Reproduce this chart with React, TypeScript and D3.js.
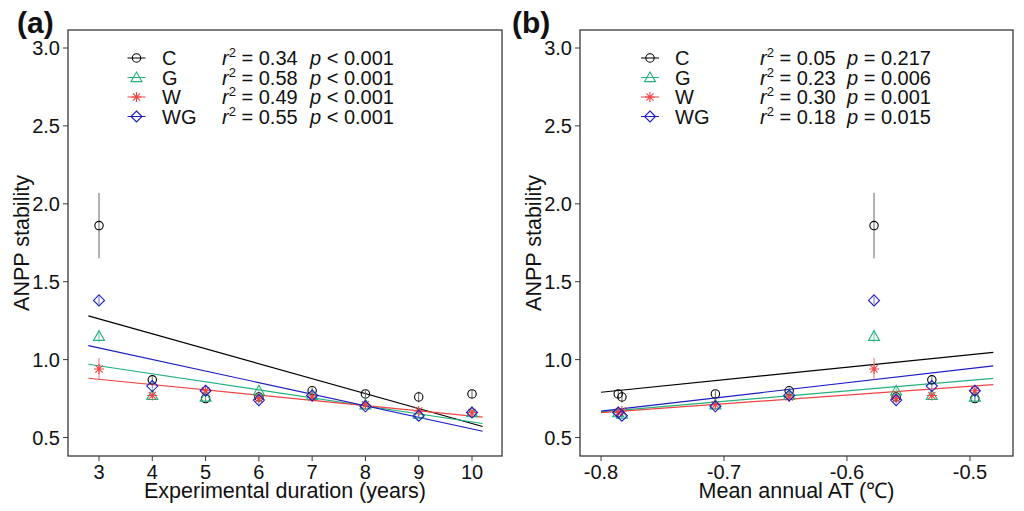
import React from "react";
import * as d3 from "d3";

// ---------- data ----------
const years = [3, 4, 5, 6, 7, 8, 9, 10];
const meanAT = [-0.578, -0.531, -0.496, -0.56, -0.647, -0.707, -0.783, -0.786];

const seriesNames = ["C", "G", "W", "WG"];
const valC = [1.86, 0.87, 0.75, 0.76, 0.8, 0.78, 0.76, 0.78];
const valG = [1.15, 0.77, 0.76, 0.8, 0.77, 0.71, 0.65, 0.66];
const valW = [0.94, 0.77, 0.8, 0.75, 0.76, 0.71, 0.67, 0.66];
const valWG = [1.38, 0.83, 0.8, 0.74, 0.77, 0.7, 0.64, 0.66];
const seC = [0.21, 0.02, 0.02, 0.02, 0.02, 0.02, 0.035, 0.025];
const seG = [0.04, 0.015, 0.015, 0.015, 0.015, 0.015, 0.015, 0.015];
const seW = [0.07, 0.015, 0.015, 0.015, 0.015, 0.015, 0.015, 0.015];
const seWG = [0.025, 0.015, 0.015, 0.015, 0.015, 0.015, 0.015, 0.015];

// fitted regression lines: [intercept, slope]
const fitA_int = [1.549, 1.114, 0.975, 1.298];
const fitA_slope = [-0.0959, -0.0514, -0.0338, -0.0743];
const fitA_range = [2.8, 10.2];
const fitB_int = [1.432, 1.204, 1.111, 1.397];
const fitB_slope = [0.802, 0.674, 0.564, 0.909];
const fitB_range = [-0.8, -0.481];

const r2A = ["0.34", "0.58", "0.49", "0.55"];
const pA = ["< 0.001", "< 0.001", "< 0.001", "< 0.001"];
const r2B = ["0.05", "0.23", "0.30", "0.18"];
const pB = ["= 0.217", "= 0.006", "= 0.001", "= 0.015"];

const yTicks = [0.5, 1.0, 1.5, 2.0, 2.5, 3.0];
const xTicksA = [3, 4, 5, 6, 7, 8, 9, 10];
const xTicksB = [-0.8, -0.7, -0.6, -0.5];

// ---------- style ----------
const colors = ["#000000", "#22b27a", "#ee4444", "#1c1cc0"];
const errColors = ["#666666", "#66c9a0", "#f07070", "#6a6ad8"];
const FONT = "'Liberation Sans', Arial, sans-serif";
const FS = 20;
const FS_TITLE = 21.5;
const values = [valC, valG, valW, valWG];
const ses = [seC, seG, seW, seWG];

function Marker({ type, x, y, color }: { type: number; x: number; y: number; color: string }) {
  const sw = 1.1;
  if (type === 0) return <circle cx={x} cy={y} r={4.2} fill="none" stroke={color} strokeWidth={sw} />;
  if (type === 1) {
    const s = 5.5;
    return (
      <path
        d={`M${x},${y - s} L${x + s},${y + s * 0.75} L${x - s},${y + s * 0.75} Z`}
        fill="none"
        stroke={color}
        strokeWidth={sw}
      />
    );
  }
  if (type === 2) {
    const s = 5;
    const d = s * 0.72;
    return (
      <path
        d={`M${x - s},${y} L${x + s},${y} M${x},${y - s} L${x},${y + s} M${x - d},${y - d} L${x + d},${y + d} M${x - d},${y + d} L${x + d},${y - d}`}
        stroke={color}
        strokeWidth={sw}
      />
    );
  }
  const s = 5.5;
  return (
    <path
      d={`M${x},${y - s} L${x + s},${y} L${x},${y + s} L${x - s},${y} Z`}
      fill="none"
      stroke={color}
      strokeWidth={sw}
    />
  );
}

type PanelProps = {
  left: number;
  right: number;
  xDomain: [number, number];
  xs: number[];
  xTicks: number[];
  xFmt: (v: number) => string;
  xTitle: React.ReactNode;
  fitInt: number[];
  fitSlope: number[];
  fitRange: number[];
  r2: string[];
  p: string[];
  tag: string;
  tagX: number;
  legend: { sym: number; lab: number; r: number; p: number };
};

const TOP = 30;
const BOTTOM = 456;

function Panel(props: PanelProps) {
  const { left, right, xDomain, xs, xTicks, xFmt, xTitle, fitInt, fitSlope, fitRange, r2, p, tag, tagX, legend } = props;
  const x = d3.scaleLinear().domain(xDomain).range([left, right]);
  const y = d3.scaleLinear().domain([0.5, 3.0]).range([437.5, 48]);
  const rows = [58, 77.5, 97, 116.5];
  return (
    <g fontFamily={FONT}>
      {/* fit lines */}
      {seriesNames.map((_, i) => {
        const pts: [number, number][] = fitRange.map((xv) => [x(xv), y(fitInt[i] + fitSlope[i] * xv)]);
        return (
          <path
            key={"f" + i}
            d={d3.line()(pts) || ""}
            stroke={colors[i]}
            strokeWidth={1.2}
            fill="none"
          />
        );
      })}
      {/* error bars */}
      {seriesNames.map((_, i) =>
        xs.map((xv, j) => (
          <line
            key={"e" + i + "-" + j}
            x1={x(xv)}
            x2={x(xv)}
            y1={y(values[i][j] - ses[i][j])}
            y2={y(values[i][j] + ses[i][j])}
            stroke={errColors[i]}
            strokeWidth={1}
          />
        ))
      )}
      {/* points */}
      {seriesNames.map((_, i) =>
        xs.map((xv, j) => <Marker key={"m" + i + "-" + j} type={i} x={x(xv)} y={y(values[i][j])} color={colors[i]} />)
      )}
      {/* box */}
      <rect x={left} y={TOP} width={right - left} height={BOTTOM - TOP} fill="none" stroke="#3a3a3a" strokeWidth={1.3} />
      {/* y ticks */}
      {yTicks.map((t) => (
        <g key={"yt" + t}>
          <line x1={left - 5} x2={left} y1={y(t)} y2={y(t)} stroke="#3a3a3a" strokeWidth={1} />
          <text x={left - 8} y={y(t) + 7} textAnchor="end" fontSize={FS} fill="#111">
            {t.toFixed(1)}
          </text>
        </g>
      ))}
      {/* x ticks */}
      {xTicks.map((t) => (
        <g key={"xt" + t}>
          <line x1={x(t)} x2={x(t)} y1={BOTTOM} y2={BOTTOM + 5} stroke="#3a3a3a" strokeWidth={1} />
          <text x={x(t)} y={479} textAnchor="middle" fontSize={FS} fill="#111">
            {xFmt(t)}
          </text>
        </g>
      ))}
      <text x={(left + right) / 2} y={498} textAnchor="middle" fontSize={FS_TITLE} fill="#111">
        {xTitle}
      </text>
      <text
        transform={`translate(${left - 39},${(TOP + BOTTOM) / 2}) rotate(-90)`}
        textAnchor="middle"
        fontSize={FS_TITLE}
        fill="#111"
      >
        ANPP stability
      </text>
      <text x={tagX} y={33} fontSize={30} fontWeight="bold" fill="#111">
        {tag}
      </text>
      {/* legend */}
      {seriesNames.map((name, i) => (
        <g key={"lg" + i}>
          <line x1={legend.sym - 9} x2={legend.sym + 9} y1={rows[i]} y2={rows[i]} stroke={colors[i]} strokeWidth={1} />
          <Marker type={i} x={legend.sym} y={rows[i]} color={colors[i]} />
          <text x={legend.lab} y={rows[i] + 7} fontSize={FS} fill="#111">
            {name}
          </text>
          <text x={legend.r} y={rows[i] + 7} fontSize={FS} fill="#111">
            <tspan fontStyle="italic">r</tspan>
            <tspan dy={-8} fontSize={13}>2</tspan>
            <tspan dy={8}>{" = " + r2[i]}</tspan>
          </text>
          <text x={legend.p} y={rows[i] + 7} fontSize={FS} fill="#111">
            <tspan fontStyle="italic">p</tspan>
            <tspan>{" " + p[i]}</tspan>
          </text>
        </g>
      ))}
    </g>
  );
}

export default function App() {
  return (
    <div style={{ position: "absolute", left: 0, top: 0 }}>
      <svg width={1024} height={511} style={{ display: "block", background: "#fff" }}>
        <Panel
          left={68}
          right={502}
          xDomain={[2.418, 10.563]}
          xs={years}
          xTicks={xTicksA}
          xFmt={(v) => String(v)}
          xTitle="Experimental duration (years)"
          fitInt={fitA_int}
          fitSlope={fitA_slope}
          fitRange={fitA_range}
          r2={r2A}
          p={pA}
          tag="(a)"
          tagX={17}
          legend={{ sym: 136.5, lab: 162, r: 222, p: 310 }}
        />
        <Panel
          left={580}
          right={1013}
          xDomain={[-0.8171, -0.465]}
          xs={meanAT}
          xTicks={xTicksB}
          xFmt={(v) => v.toFixed(1)}
          xTitle="Mean annual AT (℃)"
          fitInt={fitB_int}
          fitSlope={fitB_slope}
          fitRange={fitB_range}
          r2={r2B}
          p={pB}
          tag="(b)"
          tagX={512}
          legend={{ sym: 650, lab: 675, r: 760, p: 847 }}
        />
      </svg>
    </div>
  );
}
